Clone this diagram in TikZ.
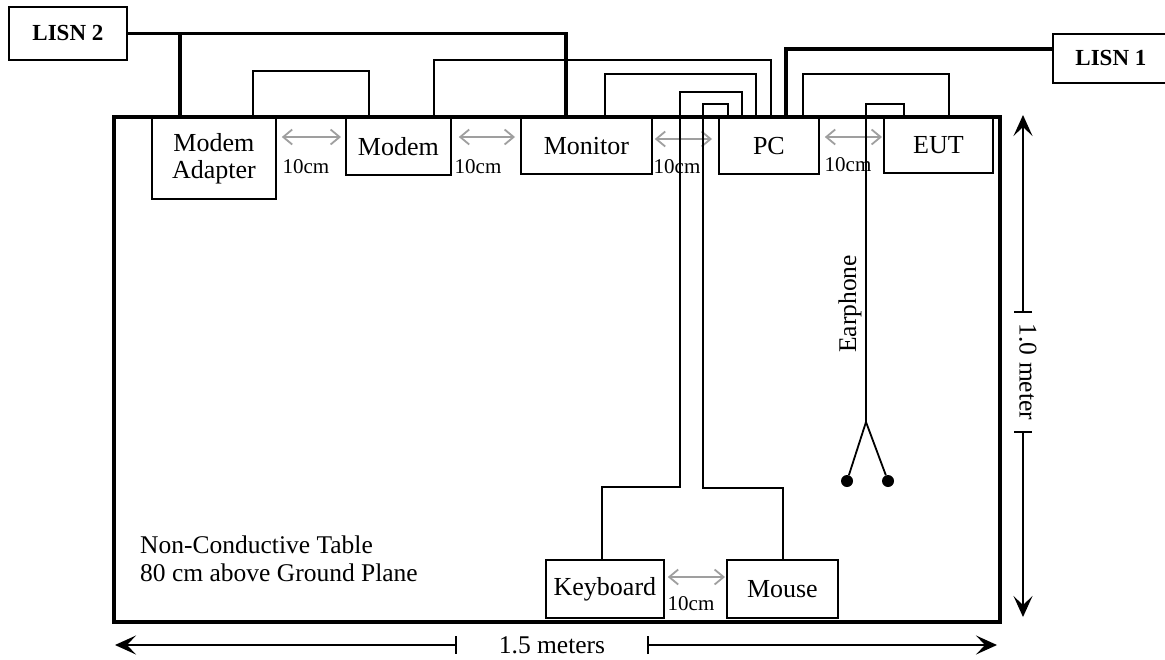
\documentclass[tikz,border=0pt]{standalone}
\usepackage{fontspec}
\setmainfont{Liberation Serif}
\usetikzlibrary{arrows.meta,calc}

\begin{document}
\begin{tikzpicture}[x=1pt,y=-1pt,
  unit/.style={draw,line width=1.8pt,inner sep=0pt,anchor=north west,align=center,font=\fontsize{26}{27}\selectfont},
  lisn/.style={draw,line width=1.8pt,inner sep=0pt,anchor=north west,font=\fontsize{23}{25}\selectfont\bfseries},
  cable/.style={line width=1.8pt},
  power/.style={line width=3.6pt},
  gap/.style={gray!75,line width=1.8pt,{Straight Barb[length=9pt,width=15pt]}-{Straight Barb[length=9pt,width=15pt]}},
  dist/.style={font=\fontsize{21}{22}\selectfont,inner sep=0pt},
  lbl/.style={font=\fontsize{25.5}{28}\selectfont,inner sep=0pt},
  dim/.style={line width=1.6pt,{Bar[width=18pt]}-{Stealth[length=21pt,width=19pt,inset=9pt]}},
  plug/.style={circle,fill,inner sep=0pt,minimum size=12pt}]
\useasboundingbox (0,0) rectangle (1165,659);

% table
\draw[line width=4pt] (114,117) rectangle (1000,622);

% units on the table
\node[unit,minimum width=124pt,minimum height=81pt] (adapter) at (151,117) {Modem\\Adapter};
\node[unit,minimum width=105pt,minimum height=57pt] (modem) at (345,117) {Modem};
\node[unit,minimum width=131pt,minimum height=56pt] (monitor) at (520,117) {Monitor};
\node[unit,minimum width=100pt,minimum height=56pt] (pc) at (718,117) {PC};
\node[unit,minimum width=109pt,minimum height=55pt] (eut) at (883,117) {EUT};
\node[unit,minimum width=118pt,minimum height=58pt] (keyboard) at (545,559) {Keyboard};
\node[unit,minimum width=111pt,minimum height=58pt] (mouse) at (726,559) {Mouse};
\node[lisn,minimum width=118pt,minimum height=53pt] (lisn2) at (8,6) {LISN 2};
\node[lisn,minimum width=116pt,minimum height=49pt] (lisn1) at (1052,33) {LISN 1};

% spacing
\draw[gap] ($(adapter.north east)+(5,20)$) -- ($(modem.north west)+(-4,20)$);
\draw[gap] ($(modem.north east)+(7,20)$) -- ($(monitor.north west)+(-5,20)$);
\draw[gap] ($(monitor.north east)+(2,22)$) -- ($(pc.north west)+(-6,22)$);
\draw[gap] ($(pc.north east)+(5,20)$) -- ($(eut.north west)+(-1,20)$);
\draw[gap] ($(keyboard.north east)+(3,18)$) -- ($(mouse.north west)+(-1,18)$);
\node[dist] (d1) at (306,167) {10cm};
\node[dist] (d2) at (478,167) {10cm};
\node[dist] (d3) at (677,167) {10cm};
\node[dist] (d4) at (848,165) {10cm};
\node[dist] (d5) at (691,604) {10cm};

% mains
\draw[power] (lisn2.east) -| ($(monitor.north west)+(46,0)$);
\draw[power] ($(adapter.north west)+(29,0)$) |- (lisn2.east);
\draw[power] ($(lisn1.north west)+(0,16)$) -| ($(pc.north west)+(68,0)$);

% cables
\draw[cable] ($(adapter.north west)+(102,0)$) -- ++(0,-46) -| ($(modem.north west)+(24,0)$);
\draw[cable] ($(modem.north west)+(89,0)$) -- ++(0,-57) -| ($(pc.north west)+(53,0)$);
\draw[cable] ($(monitor.north west)+(85,0)$) -- ++(0,-43) -| ($(pc.north west)+(38,0)$);
\draw[cable] ($(pc.north west)+(85,0)$) -- ++(0,-43) -| ($(eut.north west)+(66,0)$);
\draw[cable] ($(pc.north west)+(24,0)$) -- ++(0,-25) -- ++(-62,0) -- ++(0,395) -| ($(keyboard.north west)+(57,0)$);
\draw[cable] ($(pc.north west)+(10,0)$) -- ++(0,-13) -- ++(-25,0) -- ++(0,384) -| ($(mouse.north west)+(57,0)$);

% earphone
\draw[cable] ($(eut.north west)+(21,0)$) -- ++(0,-13) -- ++(-38,0) -- ++(0,318) coordinate (split);
\node[plug] (plugl) at ($(split)+(-19,59)$) {};
\node[plug] (plugr) at ($(split)+(22,59)$) {};
\draw[cable] (plugl) -- (split) -- (plugr);
\node[lbl,rotate=90] (ear) at (850,304) {Earphone};

% table size
\node[lbl,align=left,anchor=west] (note) at (140,559) {Non-Conductive Table\\80 cm above Ground Plane};
\node[lbl] (wlbl) at (552,645) {1.5 meters};
\node[lbl,rotate=-90] (hlbl) at (1028,372) {1.0 meter};
\coordinate (wl) at (115,645);
\coordinate (wr) at (997,645);
\coordinate (ht) at (1023,115);
\coordinate (hb) at (1023,617);
\draw[dim] (457,645) -- (wl);
\draw[dim] (647,645) -- (wr);
\draw[dim] (1023,313) -- (ht);
\draw[dim] (1023,431) -- (hb);
\end{tikzpicture}
\end{document}
